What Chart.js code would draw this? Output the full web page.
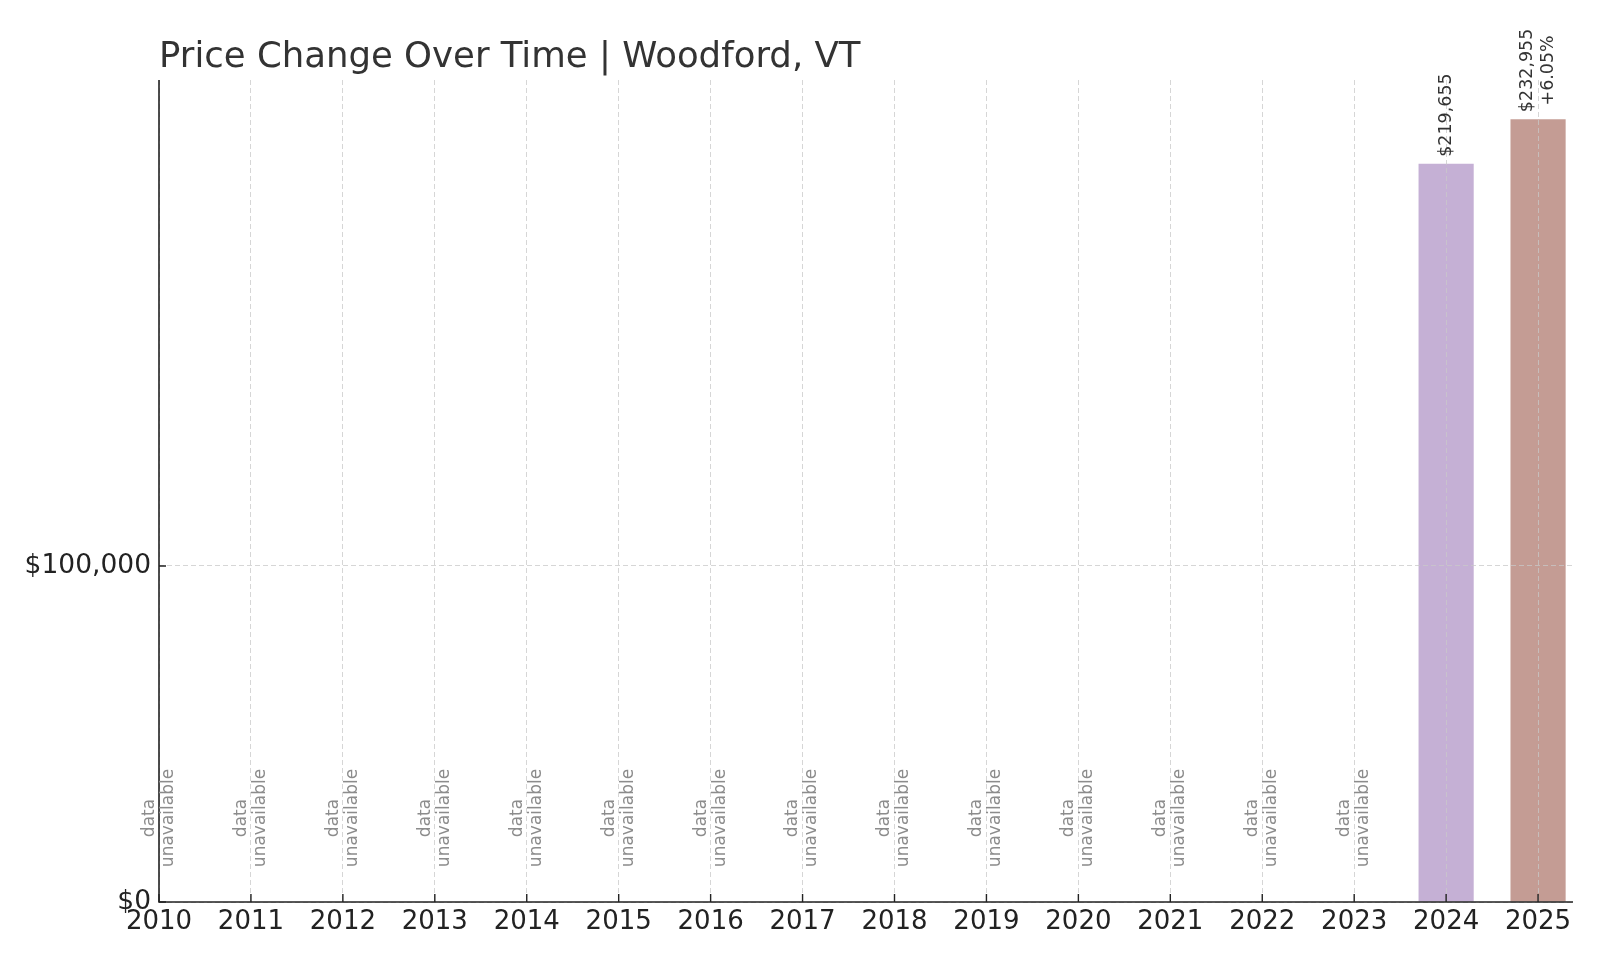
<!DOCTYPE html>
<html>
<head>
<meta charset="utf-8">
<title>Price Change Over Time | Woodford, VT</title>
<script src="https://cdn.jsdelivr.net/npm/chart.js@4/dist/chart.umd.min.js"></script>
<style>
  html, body { margin: 0; padding: 0; background: #fff; }
  canvas { display: block; }
</style>
</head>
<body>
<canvas id="priceChart" width="1600" height="960"></canvas>
<script>
// Years along the x axis
const YEARS = [2010, 2011, 2012, 2013, 2014, 2015, 2016, 2017,
               2018, 2019, 2020, 2021, 2022, 2023, 2024, 2025];
// Typical home price per year (null = data unavailable)
const PRICES = [null, null, null, null, null, null, null, null,
                null, null, null, null, null, null, 219655, 232955];
// Values shown on the y axis
const Y_TICKS = [0, 100000];

const CHART_TITLE = 'Price Change Over Time | Woodford, VT';
const NO_DATA_TEXT = ['data', 'unavailable'];
// dollar height where the "data unavailable" note is centred
const NO_DATA_Y = 25000;

// bar fill per year
const BAR_COLORS = { 2024: '#c5b0d5', 2025: '#c49c94' };

const FONT = '"DejaVu Sans", sans-serif';
const money = v => '$' + v.toLocaleString('en-US');

// Draws a block of lines turned 90 degrees, lines centred on each other
function rotatedLines(ctx, lines, cx, yRef, anchor, color, size, lineH) {
    ctx.save();
    ctx.font = size + 'px ' + FONT;
    ctx.fillStyle = color;
    ctx.translate(cx, yRef);
    ctx.rotate(-Math.PI / 2);
    ctx.textAlign = 'center';
    ctx.textBaseline = 'middle';
    const widest = Math.max(...lines.map(l => ctx.measureText(l).width));
    const along = anchor === 'bottom' ? widest / 2 : 0;
    lines.forEach((l, k) => {
        ctx.fillText(l, along, (k - (lines.length - 1) / 2) * lineH);
    });
    ctx.restore();
}

// Title, spines, inward ticks and the rotated notes
const extras = {
    id: 'extras',
    afterDraw(chart) {
        const { ctx, chartArea: area, scales: { x, y } } = chart;
        ctx.save();

        // title
        ctx.fillStyle = '#333';
        ctx.font = '35.5px ' + FONT;
        ctx.textAlign = 'left';
        ctx.textBaseline = 'alphabetic';
        ctx.fillText(CHART_TITLE, area.left, 67);

        // left and bottom spines
        ctx.strokeStyle = '#222';
        ctx.lineWidth = 1.6;
        ctx.beginPath();
        ctx.moveTo(area.left, area.top);
        ctx.lineTo(area.left, area.bottom);
        ctx.lineTo(area.right, area.bottom);
        ctx.stroke();

        // tick marks pointing into the plot
        ctx.lineWidth = 1.4;
        ctx.beginPath();
        x.ticks.forEach(t => {
            const px = x.getPixelForValue(t.value);
            ctx.moveTo(px, area.bottom);
            ctx.lineTo(px, area.bottom - 8);
        });
        y.ticks.forEach(t => {
            const py = y.getPixelForValue(t.value);
            ctx.moveTo(area.left, py);
            ctx.lineTo(area.left + 7, py);
        });
        ctx.stroke();

        // value labels and "data unavailable" notes
        YEARS.forEach((year, i) => {
            const px = x.getPixelForValue(year);
            if (PRICES[i] == null) {
                rotatedLines(ctx, NO_DATA_TEXT, px, y.getPixelForValue(NO_DATA_Y),
                             'middle', '#8c8c8c', 17, 19);
                return;
            }
            const lines = [money(PRICES[i])];
            if (i > 0 && PRICES[i - 1] != null) {
                const pct = (PRICES[i] / PRICES[i - 1] - 1) * 100;
                lines.push((pct >= 0 ? '+' : '') + pct.toFixed(2) + '%');
            }
            rotatedLines(ctx, lines, px, y.getPixelForValue(PRICES[i]) - 7,
                         'bottom', '#333', 17.5, 21);
        });

        ctx.restore();
    }
};

const gridStyle = {
    color: 'rgba(200, 200, 200, 0.75)',
    lineWidth: 1,
    drawTicks: false,
    offset: false,
    z: 1
};

new Chart(document.getElementById('priceChart'), {
    type: 'bar',
    data: {
        datasets: [{
            data: YEARS.map((yr, i) => ({ x: yr, y: PRICES[i] })),
            backgroundColor: YEARS.map(yr => BAR_COLORS[yr] || 'transparent'),
            barPercentage: 0.75,
            categoryPercentage: 0.8
        }]
    },
    options: {
        responsive: false,
        animation: false,
        devicePixelRatio: 1,
        layout: { padding: { top: 80, right: 27, left: 0, bottom: 0 } },
        plugins: {
            legend: { display: false },
            tooltip: { enabled: false },
            title: { display: false }
        },
        scales: {
            x: {
                type: 'linear',
                min: 2010,
                max: 2025.38,
                offset: false,
                afterBuildTicks: s => { s.ticks = YEARS.map(v => ({ value: v })); },
                afterFit: s => { s.height = 58; },
                ticks: {
                    callback: v => String(v),
                    font: { family: FONT, size: 26 },
                    color: '#222',
                    padding: 5,
                    autoSkip: false,
                    maxRotation: 0
                },
                grid: gridStyle,
                border: { display: false, dash: [5, 3] }
            },
            y: {
                min: 0,
                max: 244600,
                afterBuildTicks: s => { s.ticks = Y_TICKS.map(v => ({ value: v })); },
                afterFit: s => { s.width = 159; },
                ticks: {
                    callback: v => money(v),
                    font: { family: FONT, size: 26.5 },
                    color: '#222',
                    padding: 8
                },
                grid: gridStyle,
                border: { display: false, dash: [5, 3] }
            }
        }
    },
    plugins: [extras]
});
</script>
</body>
</html>
